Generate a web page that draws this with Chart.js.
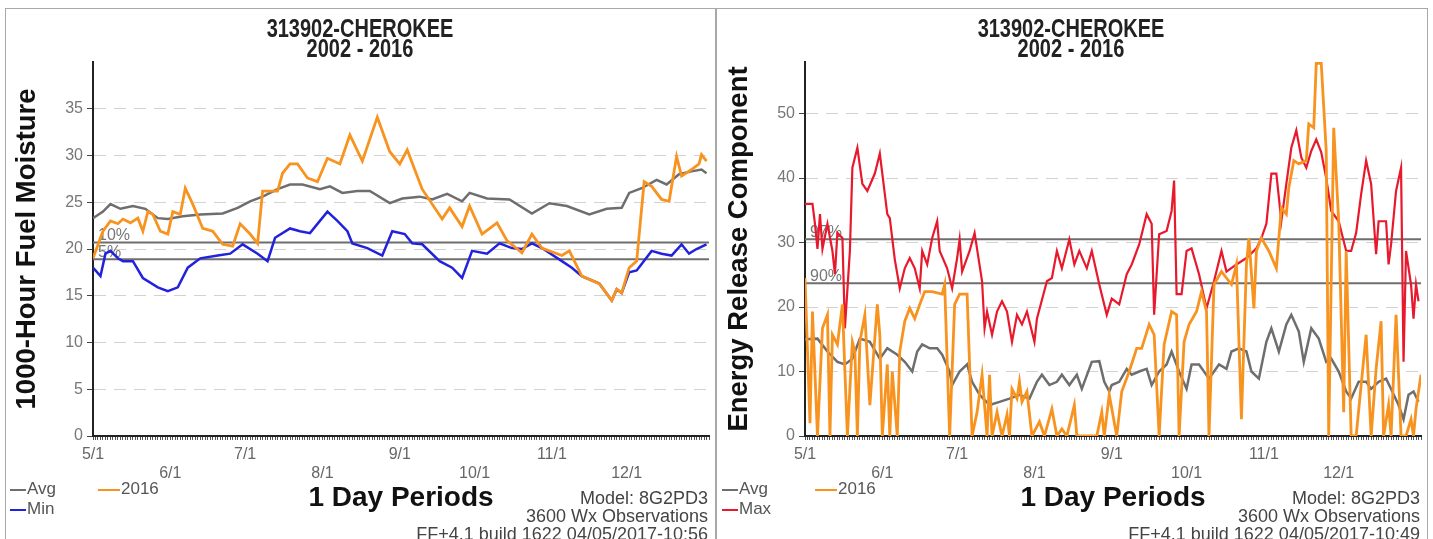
<!DOCTYPE html>
<html lang="en">
<head>
  <meta charset="UTF-8">
  <title>313902-CHEROKEE 2002 - 2016</title>
  <style>
    body { margin: 0; background: #fff; font-family: Arial, "Liberation Sans", sans-serif; }
    .panel { position: absolute; top: 8px; height: 540px; border: 1px solid #a8a8a8; border-bottom: none; }
    canvas { position: absolute; top: 9px; }
    .title { position: absolute; top: 18px; width: 400px; text-align: center; font: bold 20px/16px Arial, "Liberation Sans", sans-serif; color: #222; transform: scaleY(1.25); transform-origin: 50% 0; }
    .leg { position: absolute; font: 17px/19px Arial, "Liberation Sans", sans-serif; color: #555; white-space: nowrap; }
    .leg i { display: inline-block; width: 16px; height: 2px; vertical-align: middle; margin-right: 1px; }
    .foot { position: absolute; top: 489px; width: 360px; text-align: right; font: 18px/18px Arial, "Liberation Sans", sans-serif; color: #444; white-space: nowrap; }
  </style>
</head>
<body>
  <div class="panel" style="left:5px; width:709px"></div>
  <div class="panel" style="left:716px; width:710px"></div>

  <canvas id="fm-chart" width="708" height="530" style="left:6px"></canvas>
  <canvas id="erc-chart" width="708" height="530" style="left:718px"></canvas>

  <div class="title" style="left:160px">313902-CHEROKEE<br>2002 - 2016</div>
  <div class="title" style="left:871px">313902-CHEROKEE<br>2002 - 2016</div>

  <div class="leg" style="left:10px; top:479px"><i style="background:#6e6e6e"></i>Avg</div>
  <div class="leg" style="left:98px; top:479px"><i style="background:#f7931e; width:22px"></i>2016</div>
  <div class="leg" style="left:10px; top:499px"><i style="background:#2222dd"></i>Min</div>
  <div class="foot" style="left:348px">Model: 8G2PD3<br>3600 Wx Observations<br>FF+4.1 build 1622 04/05/2017-10:56</div>

  <div class="leg" style="left:722px; top:479px"><i style="background:#6e6e6e"></i>Avg</div>
  <div class="leg" style="left:815px; top:479px"><i style="background:#f7931e; width:22px"></i>2016</div>
  <div class="leg" style="left:722px; top:499px"><i style="background:#e8192c"></i>Max</div>
  <div class="foot" style="left:1060px">Model: 8G2PD3<br>3600 Wx Observations<br>FF+4.1 build 1622 04/05/2017-10:49</div>

  <script src="https://cdn.jsdelivr.net/npm/chart.js@4.4.8/dist/chart.umd.min.js"></script>
  <script>
    // x axis: days since 5/1
    const dayMax = 247;
    const monthDays = [0, 31, 61, 92, 123, 153, 184, 214];
    const monthLabels = ['5/1', '6/1', '7/1', '8/1', '9/1', '10/1', '11/1', '12/1'];

    // 1000-hour fuel moisture, [day, value]
    const fmAvg = [[0,23.3],[4,24.0],[7,24.8],[11,24.3],[16,24.6],[21,24.3],[26,23.3],[30,23.2],[36,23.5],[43,23.7],
      [52,23.8],[58,24.4],[63,25.1],[68,25.6],[74,26.4],[79,26.9],[84,26.9],[91,26.4],[95,26.7],[100,26.0],
      [106,26.2],[111,26.2],[119,24.9],[124,25.4],[131,25.6],[136,25.3],[142,25.9],[148,25.1],[151,26.0],[158,25.4],
      [167,25.3],[176,23.8],[183,24.9],[190,24.6],[199,23.7],[206,24.3],[212,24.4],[215,26.0],[220,26.5],[226,27.4],
      [230,26.9],[235,28.0],[240,28.3],[244,28.5],[246,28.1]];
    const fm2016 = [[0,19.0],[4,21.9],[7,23.0],[10,22.7],[12,23.2],[15,22.8],[18,23.3],[20,21.9],[22,24.0],[24,23.7],
      [27,21.9],[30,21.6],[32,24.0],[35,23.7],[37,26.5],[40,24.8],[44,22.2],[48,21.9],[52,20.5],[56,20.3],
      [59,22.7],[63,21.6],[66,20.6],[68,26.2],[74,26.2],[76,28.1],[79,29.1],[82,29.1],[86,27.6],[90,27.2],
      [94,29.7],[99,29.1],[103,32.2],[108,29.4],[114,34.1],[119,30.4],[123,29.1],[126,30.6],[132,26.4],[140,23.2],
      [143,24.4],[148,22.4],[151,24.6],[156,21.6],[162,22.8],[166,20.9],[172,19.6],[176,21.6],[180,20.1],[188,19.3],
      [191,19.8],[196,17.1],[203,16.3],[208,14.5],[210,15.7],[212,15.3],[215,18.0],[218,18.7],[221,27.2],[224,26.7],
      [228,25.3],[231,25.1],[234,29.9],[236,27.8],[240,28.5],[243,29.1],[244,30.1],[246,29.4]];
    const fmMin = [[0,18.0],[3,17.1],[5,19.5],[7,19.8],[10,19.0],[12,18.7],[16,18.7],[20,16.9],[26,15.9],[30,15.5],
      [34,15.9],[38,18.0],[43,19.0],[50,19.3],[55,19.5],[60,20.5],[66,19.5],[70,18.7],[73,21.2],[79,22.2],
      [83,21.9],[87,21.7],[94,24.0],[98,23.0],[102,21.9],[104,20.6],[110,20.1],[116,19.3],[120,21.9],[125,21.6],
      [128,20.6],[132,20.5],[139,18.7],[144,18.0],[148,16.9],[152,19.8],[158,19.5],[163,20.6],[168,20.1],[172,20.0],
      [176,20.6],[180,20.1],[188,18.7],[192,18.0],[196,17.1],[203,16.3],[208,14.5],[210,15.7],[212,15.3],[215,17.5],
      [218,17.7],[220,18.4],[224,19.8],[228,19.5],[232,19.3],[236,20.5],[239,19.5],[242,20.0],[246,20.5]];
    const fmPctValues = [20.7, 18.9];
    const fmPctLabels = ['10%', '5%'];
    const fmTicks = [0, 5, 10, 15, 20, 25, 30, 35];

    // energy release component, [day, value]
    const ercAvg = [[0,15.0],[5,15.1],[9,13.1],[13,11.5],[16,11.1],[19,12.0],[22,15.1],[26,14.6],[30,12.0],[33,13.6],
      [37,12.6],[40,11.5],[43,10.0],[45,13.1],[47,14.2],[50,13.6],[53,13.6],[55,12.6],[58,10.0],[59,7.9],
      [62,10.0],[65,11.1],[67,8.4],[70,6.4],[74,4.8],[78,5.3],[82,5.8],[86,6.4],[90,5.8],[93,8.4],
      [95,9.5],[98,7.9],[101,8.4],[103,9.5],[106,7.9],[109,9.5],[111,7.3],[115,11.5],[118,11.6],[120,8.4],
      [122,6.9],[123,7.9],[126,8.4],[129,10.4],[131,9.5],[134,10.0],[137,10.4],[139,7.9],[142,10.0],[145,11.1],
      [147,13.1],[150,10.0],[153,7.3],[155,11.1],[158,11.1],[162,8.9],[166,11.1],[169,10.4],[171,13.1],[174,13.6],
      [177,13.1],[179,10.0],[182,8.9],[185,14.6],[187,16.7],[190,13.1],[193,17.3],[195,18.8],[198,16.2],[200,11.5],
      [203,16.7],[206,15.1],[209,11.5],[211,12.0],[214,10.0],[217,6.9],[219,5.8],[222,8.4],[225,8.4],[227,7.3],
      [230,8.4],[233,8.9],[235,7.3],[238,4.8],[240,2.6],[242,6.4],[244,6.9],[246,5.3]];
    const erc2016 = [[0,24.5],[2,2.0],[3,19.3],[5,0],[7,16.7],[9,18.8],[10,0],[11,15.7],[13,14.2],[15,20.4],
      [16,10.0],[17,0],[19,14.6],[20,13.1],[21,0],[22,14.6],[24,18.8],[26,4.8],[29,20.4],[30,15.7],
      [31,0],[33,11.1],[34,0],[35,10.0],[37,0],[38,13.1],[40,17.8],[42,19.8],[44,18.2],[46,20.4],
      [48,22.4],[51,22.4],[55,22.0],[56,23.5],[58,0],[60,20.4],[62,22.0],[65,22.0],[67,0],[69,3.7],
      [71,9.5],[73,0],[74,9.5],[75,0],[77,3.7],[79,0],[81,3.3],[82,0],[83,7.3],[85,5.8],
      [86,8.4],[87,5.3],[89,6.9],[91,0],[94,2.2],[96,0],[99,4.2],[101,0],[103,1.1],[105,0],
      [108,4.8],[109,0],[117,0],[119,3.7],[120,0],[122,6.4],[125,0],[127,6.9],[130,10.0],[133,13.6],
      [135,13.6],[138,17.3],[140,15.7],[142,0],[144,14.2],[147,19.3],[149,18.8],[150,0],[152,14.6],[154,17.3],
      [157,19.3],[159,22.4],[161,19.3],[162,0],[164,23.5],[167,25.5],[169,24.5],[171,23.5],[173,26.6],[175,2.6],
      [177,26.6],[178,30.7],[180,19.8],[181,28.7],[183,30.7],[186,28.7],[189,26.0],[191,35.4],[193,34.4],[194,38.5],
      [196,42.7],[198,42.2],[201,42.7],[202,48.4],[204,47.8],[205,57.8],[207,57.8],[209,44.2],[210,0],[212,47.8],
      [214,33.3],[216,3.7],[217,28.7],[219,0],[221,0],[223,7.9],[225,15.7],[227,0],[229,10.4],[231,17.8],
      [232,0],[234,4.8],[235,0],[237,18.8],[239,0],[241,0],[243,2.6],[244,0],[245,4.2],[247,9.5]];
    const ercMax = [[0,36.0],[3,36.0],[4,32.9],[5,29.0],[6,34.4],[7,29.0],[9,32.9],[11,28.7],[12,25.1],[13,31.5],
      [15,30.7],[16,16.7],[18,28.7],[19,41.6],[21,44.7],[23,39.1],[25,38.0],[28,40.7],[30,43.8],[33,34.4],
      [34,33.8],[36,27.4],[38,22.9],[40,26.0],[42,27.6],[44,26.0],[46,22.9],[47,28.7],[49,26.6],[51,30.7],
      [53,33.3],[54,28.7],[57,26.0],[59,22.9],[61,27.6],[62,30.5],[63,25.5],[66,28.7],[68,31.5],[71,24.0],
      [72,16.7],[73,19.3],[75,15.7],[77,19.3],[79,20.9],[81,19.3],[83,14.6],[85,18.8],[87,17.3],[89,19.3],
      [92,14.6],[93,18.2],[97,24.0],[99,24.5],[101,28.7],[103,26.0],[106,30.5],[108,26.6],[110,28.7],[113,26.0],
      [115,28.7],[118,23.5],[121,18.8],[123,21.3],[126,20.4],[129,25.1],[131,26.6],[134,29.7],[137,34.4],[139,32.9],
      [140,18.8],[142,31.3],[145,31.8],[147,34.9],[148,39.6],[149,22.0],[151,22.0],[153,28.7],[155,29.1],[158,25.1],
      [161,19.8],[164,24.0],[167,28.7],[169,25.5],[173,26.6],[175,27.1],[177,27.6],[181,29.1],[183,30.7],[185,32.9],
      [187,40.7],[189,40.7],[191,33.3],[193,39.1],[195,44.7],[197,47.4],[199,43.2],[201,41.6],[203,44.2],[205,46.0],
      [207,44.0],[209,40.0],[211,34.9],[214,33.3],[217,28.7],[219,28.7],[221,31.5],[223,37.5],[225,42.7],[227,39.1],
      [229,28.2],[230,33.3],[233,33.3],[234,26.6],[235,29.7],[237,38.0],[239,41.6],[240,11.5],[241,28.7],[243,23.5],
      [244,18.2],[245,23.5],[246,20.9]];
    const ercPctValues = [30.5, 23.7];
    const ercPctLabels = ['97%', '90%'];
    const ercTicks = [0, 10, 20, 30, 40, 50];

    const FONT = 'Arial, "Liberation Sans", sans-serif';

    function toXY(points) {
      return points.map(p => ({ x: p[0], y: p[1] }));
    }

    function series(points, color, width) {
      return { data: toXY(points), borderColor: color, borderWidth: width, pointRadius: 0, tension: 0, fill: false };
    }

    function refLine(v) {
      return { data: [{ x: 0, y: v }, { x: dayMax, y: v }], borderColor: '#6e6e6e', borderWidth: 2, pointRadius: 0 };
    }

    // percentile labels sit just above their lines, under the series
    const pctLabelPlugin = {
      id: 'pctLabels',
      beforeDatasetsDraw(chart, args, opts) {
        const { ctx, chartArea, scales } = chart;
        ctx.save();
        ctx.font = '16px ' + FONT;
        ctx.fillStyle = '#777';
        ctx.textBaseline = 'bottom';
        opts.values.forEach((v, i) => {
          ctx.fillText(opts.labels[i], chartArea.left + 5, scales.y.getPixelForValue(v) + 1);
        });
        ctx.restore();
      }
    };

    function makeChart(id, cfg) {
      const datasets = cfg.lines.map(l => series(l[0], l[1], l[2]))
        .concat(cfg.pctValues.map(refLine));

      return new Chart(document.getElementById(id).getContext('2d'), {
        type: 'line',
        data: { datasets: datasets },
        plugins: [pctLabelPlugin],
        options: {
          responsive: false,
          animation: false,
          layout: { padding: { top: 53, right: 4, left: 0, bottom: 0 } },
          plugins: {
            legend: { display: false },
            tooltip: { enabled: false },
            pctLabels: { values: cfg.pctValues, labels: cfg.pctLabels }
          },
          scales: {
            x: {
              type: 'linear',
              min: 0,
              max: dayMax,
              afterBuildTicks: s => {
                const t = [];
                for (let d = 0; d <= dayMax; d++) t.push({ value: d });
                s.ticks = t;
              },
              afterFit: s => { s.height = 103; },
              ticks: {
                autoSkip: false,
                maxRotation: 0,
                minRotation: 0,
                padding: 5,
                color: '#666',
                font: { family: FONT, size: 16, lineHeight: 1.2 },
                callback: v => {
                  const i = monthDays.indexOf(v);
                  if (i < 0) return '';
                  return i % 2 === 0 ? monthLabels[i] : ['', monthLabels[i]];
                }
              },
              grid: { drawOnChartArea: false, drawTicks: true, tickLength: 4, tickColor: '#555', tickWidth: 1 },
              border: { color: '#222', width: 2 },
              title: {
                display: true,
                text: '1 Day Periods',
                color: '#111',
                font: { family: FONT, size: 28, weight: 'bold', lineHeight: 1.2 },
                padding: { top: 0, bottom: 24 }
              }
            },
            y: {
              min: 0,
              max: cfg.yMax,
              afterBuildTicks: s => { s.ticks = cfg.yTicks.map(v => ({ value: v })); },
              afterFit: s => { s.width = 87; },
              ticks: { color: '#777', padding: 4, font: { family: FONT, size: 16 } },
              grid: {
                color: c => (c.tick && c.tick.value === 0) ? 'rgba(0,0,0,0)' : '#d2d2d2',
                lineWidth: 1,
                tickLength: 6,
                tickColor: '#444',
                tickBorderDash: []
              },
              border: { color: '#222', width: 2, dash: [12, 8] },
              title: {
                display: true,
                text: cfg.yTitle,
                color: '#111',
                font: { family: FONT, size: 27.5, weight: 'bold', lineHeight: 1.2 },
                padding: { top: 5, bottom: 0 }
              }
            }
          }
        }
      });
    }

    makeChart('fm-chart', {
      lines: [[fm2016, '#f7931e', 2.8], [fmMin, '#2222dd', 2.5], [fmAvg, '#6e6e6e', 2.5]],
      pctValues: fmPctValues,
      pctLabels: fmPctLabels,
      yMax: 40,
      yTicks: fmTicks,
      yTitle: '1000-Hour Fuel Moisture'
    });

    makeChart('erc-chart', {
      lines: [[erc2016, '#f7931e', 2.8], [ercMax, '#e8192c', 2.2], [ercAvg, '#6e6e6e', 2.5]],
      pctValues: ercPctValues,
      pctLabels: ercPctLabels,
      yMax: 58,
      yTicks: ercTicks,
      yTitle: 'Energy Release Component'
    });
  </script>
</body>
</html>
